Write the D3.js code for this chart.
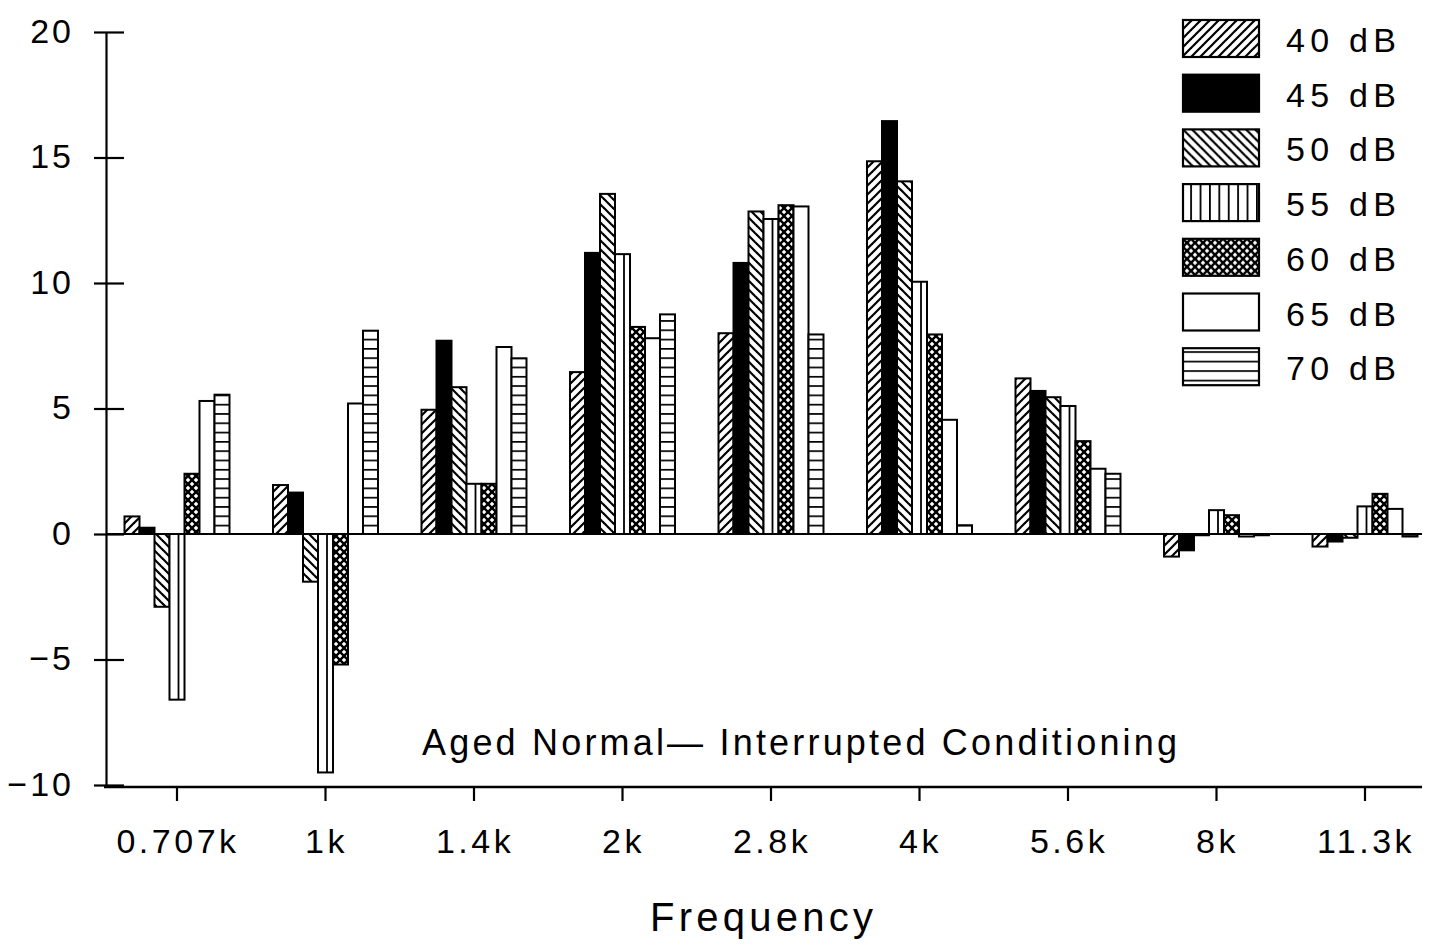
<!DOCTYPE html>
<html>
<head>
<meta charset="utf-8">
<script src="https://cdn.jsdelivr.net/npm/d3@7"></script>
<style>
  html, body { margin: 0; padding: 0; background: #fff; }
  svg { display: block; }
  text { font-family: "Liberation Sans", Arial, sans-serif; fill: #000; }
</style>
</head>
<body>
<div id="chart"></div>
<script>
// ---- data ----
const categories = ["0.707k", "1k", "1.4k", "2k", "2.8k", "4k", "5.6k", "8k", "11.3k"];
const seriesNames = ["40 dB", "45 dB", "50 dB", "55 dB", "60 dB", "65 dB", "70 dB"];
const s40 = [0.7, 1.95, 4.95, 6.45, 8.0, 14.85, 6.2, -0.9, -0.5];
const s45 = [0.25, 1.65, 7.7, 11.2, 10.8, 16.45, 5.7, -0.65, -0.3];
const s50 = [-2.9, -1.9, 5.85, 13.55, 12.85, 14.05, 5.45, -0.05, -0.15];
const s55 = [-6.6, -9.5, 2.0, 11.15, 12.55, 10.05, 5.1, 0.95, 1.1];
const s60 = [2.4, -5.2, 2.0, 8.25, 13.1, 7.95, 3.7, 0.75, 1.6];
const s65 = [5.3, 5.2, 7.45, 7.8, 13.05, 4.55, 2.6, -0.1, 1.0];
const s70 = [5.55, 8.1, 7.0, 8.75, 7.95, 0.35, 2.4, -0.05, -0.1];
const yTicks = [-10, -5, 0, 5, 10, 15, 20];
const xTitle = "Frequency";
const note = "Aged Normal\u2014 Interrupted Conditioning";

const seriesValues = [s40, s45, s50, s55, s60, s65, s70];
const fills = ["url(#p40)", "#000", "url(#p50)", "#fff", "url(#p60)", "#fff", "url(#p70)"];
const legendFills = ["url(#p40)", "#000", "url(#p50)", "url(#p55L)", "url(#p60)", "#fff", "url(#p70L)"];

const W = 1437, H = 951;
const svg = d3.select("#chart").append("svg").attr("width", W).attr("height", H);

// ---- scales ----
const x = d3.scaleBand().domain(categories).range([102.75, 1439.25])
  .paddingInner(0.293).paddingOuter(0.1465);
const xs = d3.scaleBand().domain(seriesNames).range([0, x.bandwidth()]);
const y = d3.scaleLinear().domain([-10, 20]).range([785, 32]);
const y0 = y(0);

// ---- patterns ----
const defs = svg.append("defs");
function diag(id, dir, p, sw) {
  const pat = defs.append("pattern").attr("id", id).attr("patternUnits", "userSpaceOnUse")
    .attr("width", p).attr("height", p);
  pat.append("rect").attr("width", p).attr("height", p).attr("fill", "#fff");
  const g = pat.append("g").attr("stroke", "#000").attr("stroke-width", sw);
  if (dir === "up" || dir === "both") {
    g.append("line").attr("x1", 0).attr("y1", p).attr("x2", p).attr("y2", 0);
    g.append("line").attr("x1", -p / 2).attr("y1", p / 2).attr("x2", p / 2).attr("y2", -p / 2);
    g.append("line").attr("x1", p / 2).attr("y1", p * 1.5).attr("x2", p * 1.5).attr("y2", p / 2);
  }
  if (dir === "down" || dir === "both") {
    g.append("line").attr("x1", 0).attr("y1", 0).attr("x2", p).attr("y2", p);
    g.append("line").attr("x1", -p / 2).attr("y1", p / 2).attr("x2", p / 2).attr("y2", p * 1.5);
    g.append("line").attr("x1", p / 2).attr("y1", -p / 2).attr("x2", p * 1.5).attr("y2", p / 2);
  }
}
diag("p40", "up", 9, 2.2);
diag("p50", "down", 9, 2.2);
diag("p60", "both", 8, 2.4);

function hlines(id, p, offY) {
  const pat = defs.append("pattern").attr("id", id).attr("patternUnits", "userSpaceOnUse")
    .attr("width", 20).attr("height", p).attr("y", offY);
  pat.append("rect").attr("width", 20).attr("height", p).attr("fill", "#fff");
  pat.append("line").attr("x1", 0).attr("x2", 20).attr("y1", 0).attr("y2", 0)
    .attr("stroke", "#000").attr("stroke-width", 3.4);
}
hlines("p70", 9.3, y0);
hlines("p70L", 9.5, 354.5);

const p55L = defs.append("pattern").attr("id", "p55L").attr("patternUnits", "userSpaceOnUse")
  .attr("width", 9.4).attr("height", 20).attr("x", 1183 + 9.4 - 0.8);
p55L.append("rect").attr("width", 9.4).attr("height", 20).attr("fill", "#fff");
p55L.append("line").attr("x1", 0.8).attr("x2", 0.8).attr("y1", 0).attr("y2", 20)
  .attr("stroke", "#000").attr("stroke-width", 2);

// ---- bars ----
const barData = [];
categories.forEach((c, ci) => {
  seriesNames.forEach((s, si) => {
    barData.push({ c, s, si, v: seriesValues[si][ci] });
  });
});

const bars = svg.append("g").attr("class", "bars");
bars.selectAll("rect").data(barData).join("rect")
  .attr("x", d => x(d.c) + xs(d.s))
  .attr("y", d => Math.min(y(d.v), y0))
  .attr("width", xs.bandwidth())
  .attr("height", d => Math.abs(y(d.v) - y0))
  .attr("fill", d => fills[d.si])
  .attr("stroke", "#000")
  .attr("stroke-width", 2);

// inner vertical line of 55 dB bars
bars.selectAll("line.v55").data(barData.filter(d => d.si === 3)).join("line")
  .attr("class", "v55")
  .attr("x1", d => x(d.c) + xs(d.s) + xs.bandwidth() * 0.6)
  .attr("x2", d => x(d.c) + xs(d.s) + xs.bandwidth() * 0.6)
  .attr("y1", y0).attr("y2", d => y(d.v))
  .attr("stroke", "#000").attr("stroke-width", 1.8);

// zero line
svg.append("line").attr("x1", 106).attr("x2", 1422).attr("y1", y0).attr("y2", y0)
  .attr("stroke", "#000").attr("stroke-width", 2.2);

// ---- y axis ----
const yAxis = svg.append("g").attr("transform", "translate(106,0)")
  .call(d3.axisLeft(y).tickValues(yTicks).tickSizeOuter(0).tickSize(0).tickPadding(32)
    .tickFormat(d => d < 0 ? "\u2212" + Math.abs(d) : String(d)));
yAxis.select(".domain").attr("stroke", "#000").attr("stroke-width", 2.2);
yAxis.selectAll(".tick line").attr("x1", -12).attr("x2", 18).attr("stroke", "#000").attr("stroke-width", 2.2);
yAxis.selectAll(".tick text").attr("font-size", 34).attr("dy", "0.3em")
  .attr("font-family", "Liberation Sans, Arial, sans-serif").style("letter-spacing", "3px");

// ---- x axis ----
const xAxis = svg.append("g").attr("transform", "translate(0,787)")
  .call(d3.axisBottom(x).tickSize(14).tickSizeOuter(0).tickPadding(28));
xAxis.select(".domain").remove();
xAxis.selectAll(".tick line").attr("stroke", "#000").attr("stroke-width", 2.2);
xAxis.selectAll(".tick text").attr("font-size", 34)
  .attr("font-family", "Liberation Sans, Arial, sans-serif").style("letter-spacing", "3.5px")
  .attr("dx", "1px");
svg.append("line").attr("x1", 104).attr("x2", 1422).attr("y1", 787).attr("y2", 787)
  .attr("stroke", "#000").attr("stroke-width", 2.4);

// ---- titles ----
svg.append("text").attr("x", 422).attr("y", 755).attr("font-size", 36)
  .attr("textLength", 755).attr("lengthAdjust", "spacing").text(note);
svg.append("text").attr("x", 650).attr("y", 931).attr("font-size", 40)
  .attr("textLength", 223).attr("lengthAdjust", "spacing").text(xTitle);

// ---- legend ----
const legend = svg.append("g").attr("class", "legend");
const lg = legend.selectAll("g").data(seriesNames).join("g")
  .attr("transform", (d, i) => `translate(1183,${20 + i * 54.7})`);
lg.append("rect").attr("width", 76).attr("height", 37)
  .attr("fill", (d, i) => legendFills[i])
  .attr("stroke", "#000").attr("stroke-width", 2.2);
lg.append("text").attr("x", 103).attr("y", 32).attr("font-size", 34)
  .attr("textLength", 110).attr("lengthAdjust", "spacing").text(d => d);
</script>
</body>
</html>
